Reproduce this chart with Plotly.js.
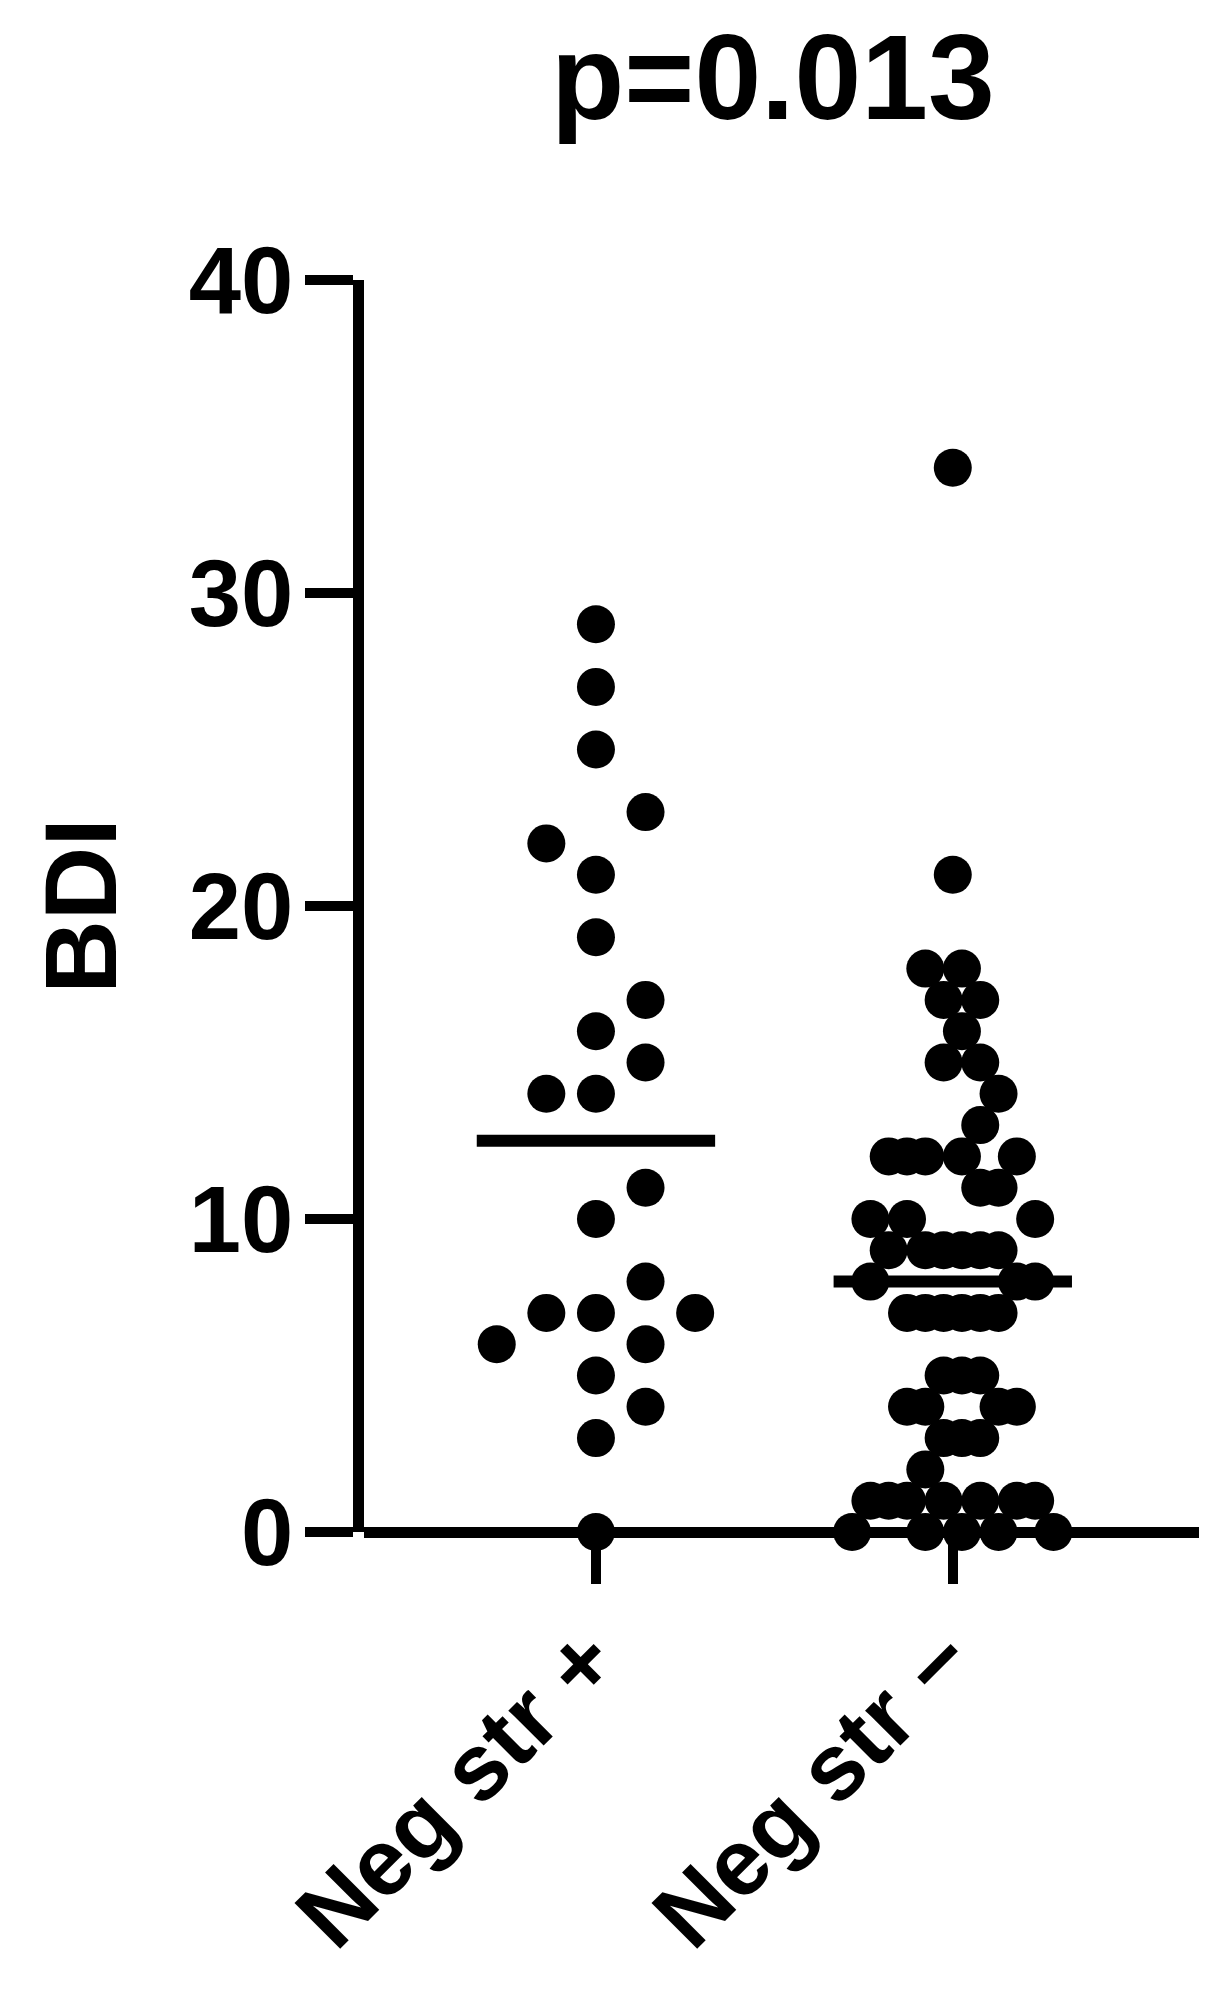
<!DOCTYPE html>
<html>
<head>
<meta charset="utf-8">
<script src="https://cdn.plot.ly/plotly-3.0.1.min.js"></script>
<style>
  html, body { margin: 0; padding: 0; background: #fff; }
  #chart { width: 1219px; height: 1989px; }
</style>
</head>
<body>
<div id="chart"></div>
<script>
// ---- data ----
var categories = ['Neg str +', 'Neg str −'];
var tickLabels = ['Neg str <span>+</span>', 'Neg str <span>−</span>'];
var groupPositions = [1, 2];

var group1Values = [29, 27, 25, 23, 22, 21, 19, 17, 16, 15, 14, 14, 11, 10, 8, 7, 7, 7, 6, 6, 5, 4, 3, 0];
var group1Slots  = [0, 0, 0, 1, -1, 0, 0, 1, 0, 1, -1, 0, 1, 0, 1, -1, 0, 2, -2, 1, 0, 1, 0, 0];

var group2Values = [34, 21, 18, 18, 17, 17, 16, 15, 15, 14, 13, 12, 12, 12, 12, 12, 11, 11, 10, 10, 10,
                    9, 9, 9, 9, 9, 9, 8, 8, 8, 7, 7, 7, 7, 7, 7, 5, 5, 5, 4, 4, 4, 4, 3, 3, 3, 2,
                    1, 1, 1, 1, 1, 1, 1, 0, 0, 0, 0, 0];
var group2Slots  = [0, 0, -1.5, 0.5, -0.5, 1.5, 0.5, -0.5, 1.5, 2.5, 1.5, -3.5, -2.5, -1.5, 0.5, 3.5, 1.5, 2.5,
                    -4.5, -2.5, 4.5, -3.5, -1.5, -0.5, 0.5, 1.5, 2.5, -4.5, 3.5, 4.5, -2.5, -1.5, -0.5, 0.5,
                    1.5, 2.5, -0.5, 0.5, 1.5, -2.5, -1.5, 2.5, 3.5, -0.5, 0.5, 1.5, -1.5, -4.5, -3.5, -2.5,
                    -0.5, 1.5, 3.5, 4.5, -5.5, -1.5, 0.5, 2.5, 5.5];

var medians = [12.5, 8];
var yTickVals = [0, 10, 20, 30, 40];
var titleText = 'p=0.013';
var yTitle = 'BDI';

// ---- style constants ----
var slotWidth = [0.139, 0.0513];   // x-units per swarm slot
var medianHalfWidth = 0.334;        // x-units
var FONT = 'Liberation Sans, Arial, Helvetica, sans-serif';

function swarmX(center, slots, w) {
  return slots.map(function (s) { return center + s * w; });
}

var traces = [];
[[group1Values, group1Slots], [group2Values, group2Slots]].forEach(function (g, i) {
  traces.push({
    type: 'scatter', mode: 'markers',
    name: categories[i],
    x: swarmX(groupPositions[i], g[1], slotWidth[i]),
    y: g[0],
    marker: { size: 38, color: '#000', line: { width: 0 } },
    cliponaxis: false,
    showlegend: false
  });
  traces.push({
    type: 'scatter', mode: 'lines',
    x: [groupPositions[i] - medianHalfWidth, groupPositions[i] + medianHalfWidth],
    y: [medians[i], medians[i]],
    line: { color: '#000', width: 12 },
    cliponaxis: false,
    showlegend: false
  });
});

var layout = {
  width: 1219, height: 1989,
  paper_bgcolor: '#fff', plot_bgcolor: '#fff',
  margin: { l: 364, r: 20, t: 280, b: 457, pad: 0 },
  showlegend: false,
  title: {
    text: titleText,
    font: { family: FONT, size: 120, color: '#000', weight: 700 },
    x: 0.634, xanchor: 'center', xref: 'container',
    y: 0.9613, yanchor: 'middle', yref: 'container'
  },
  xaxis: {
    range: [0.35, 2.69],
    tickmode: 'array', tickvals: groupPositions, ticktext: tickLabels,
    tickangle: -45,
    ticks: 'outside', ticklen: 51, tickwidth: 10, tickcolor: '#000',
    ticklabelstandoff: -16, ticklabelshift: -7,
    showline: false,
    showgrid: false, zeroline: false,
    tickfont: { family: FONT, size: 94, color: '#000', weight: 700 },
    automargin: false
  },
  yaxis: {
    range: [0, 40],
    tickmode: 'array', tickvals: yTickVals,
    ticks: 'outside', ticklen: 48, tickwidth: 10, tickcolor: '#000',
    ticklabelstandoff: -7,
    showline: true, linewidth: 11, linecolor: '#000',
    showgrid: false,
    zeroline: true, zerolinewidth: 11, zerolinecolor: '#000',
    tickfont: { family: FONT, size: 94, color: '#000', weight: 700 },
    title: { text: yTitle, font: { family: FONT, size: 102, color: '#000', weight: 700 }, standoff: 42 },
    automargin: false
  }
};

Plotly.newPlot('chart', traces, layout, { staticPlot: true, displayModeBar: false });
</script>
</body>
</html>
